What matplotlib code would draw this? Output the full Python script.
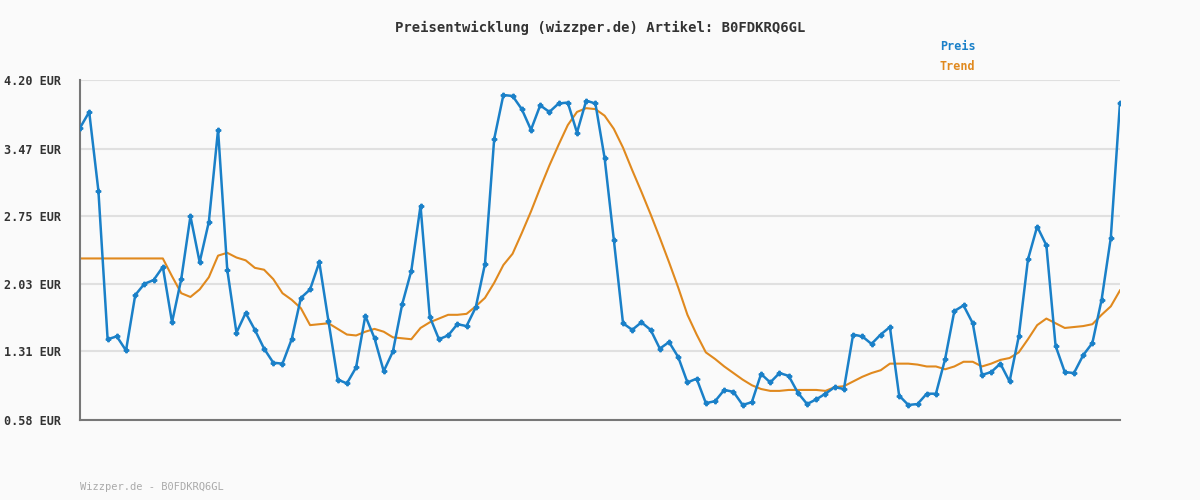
import numpy as np
import matplotlib
matplotlib.use("Agg")
import matplotlib.pyplot as plt

# Preis (EUR), 114 points
preis = [3.69, 3.86, 3.02, 1.44, 1.47, 1.32, 1.91, 2.03, 2.07, 2.21,
         1.62, 2.08, 2.75, 2.26, 2.69, 3.67, 2.18, 1.51, 1.72, 1.54,
         1.34, 1.19, 1.18, 1.44, 1.88, 1.97, 2.26, 1.63, 1.01, 0.97,
         1.14, 1.69, 1.45, 1.10, 1.31, 1.81, 2.17, 2.86, 1.68, 1.44,
         1.48, 1.60, 1.58, 1.78, 2.24, 3.57, 4.04, 4.03, 3.89, 3.67,
         3.93, 3.86, 3.95, 3.96, 3.64, 3.98, 3.95, 3.37, 2.50, 1.61,
         1.54, 1.62, 1.54, 1.34, 1.41, 1.25, 0.98, 1.02, 0.76, 0.78,
         0.90, 0.88, 0.74, 0.77, 1.07, 0.98, 1.08, 1.05, 0.87, 0.75,
         0.80, 0.86, 0.93, 0.91, 1.49, 1.47, 1.39, 1.49, 1.57, 0.84,
         0.74, 0.75, 0.86, 0.86, 1.23, 1.74, 1.80, 1.61, 1.06, 1.09,
         1.18, 0.99, 1.47, 2.29, 2.64, 2.44, 1.37, 1.09, 1.08, 1.27,
         1.40, 1.86, 2.52, 3.96]

trend = [2.30, 2.30, 2.30, 2.30, 2.30, 2.30, 2.30, 2.30, 2.30, 2.30,
         2.11, 1.93, 1.89, 1.97, 2.10, 2.33, 2.36, 2.31, 2.28, 2.20,
         2.18, 2.08, 1.93, 1.86, 1.77, 1.59, 1.60, 1.61, 1.55, 1.49,
         1.48, 1.52, 1.55, 1.52, 1.46, 1.45, 1.44, 1.56, 1.62, 1.66,
         1.70, 1.70, 1.71, 1.79, 1.88, 2.04, 2.23, 2.35, 2.57, 2.80,
         3.05, 3.29, 3.51, 3.72, 3.86, 3.90, 3.89, 3.82, 3.68, 3.48,
         3.24, 3.01, 2.77, 2.52, 2.26, 1.99, 1.70, 1.49, 1.30, 1.23,
         1.15, 1.08, 1.01, 0.95, 0.91, 0.89, 0.89, 0.90, 0.90, 0.90,
         0.90, 0.89, 0.93, 0.94, 0.99, 1.04, 1.08, 1.11, 1.18, 1.18,
         1.18, 1.17, 1.15, 1.15, 1.12, 1.15, 1.20, 1.20, 1.15, 1.18,
         1.22, 1.24, 1.30, 1.44, 1.59, 1.66, 1.61, 1.56, 1.57, 1.58,
         1.60, 1.70, 1.79, 1.96]

yticks = [0.58, 1.31, 2.03, 2.75, 3.47, 4.20]

blue = "#1a80c8"
orange = "#e0891e"
mono = "DejaVu Sans Mono"

fig = plt.figure(figsize=(12, 5), dpi=100, facecolor="#fafafa")
ax = fig.add_axes([80 / 1200, 0.16, 1040 / 1200, 0.68], facecolor="#fafafa")

x = np.arange(len(preis))
ax.plot(x, trend, color=orange, lw=1.5, zorder=2)
ax.plot(x, preis, color=blue, lw=1.8, marker="P", ms=3.2, zorder=3)

ax.set_xlim(0, len(preis) - 1)
ax.set_ylim(0.58, 4.20)
ax.set_yticks(yticks)
ax.set_yticklabels([f"{v:.2f} EUR" for v in yticks], family=mono,
                   fontsize=8.5, fontweight="bold", color="#333333")
ax.set_xticks([])
ax.tick_params(axis="y", length=0, pad=14)
ax.grid(axis="y", color="#e0e0e0", lw=1.5)
ax.set_axisbelow(True)
for s in ["top", "right"]:
    ax.spines[s].set_visible(False)
ax.spines["left"].set_color("#777777")
ax.spines["bottom"].set_color("#777777")
ax.spines["left"].set_linewidth(1.5)
ax.spines["bottom"].set_linewidth(1.5)

fig.text(0.5, 1 - 28 / 500, "Preisentwicklung (wizzper.de) Artikel: B0FDKRQ6GL",
         ha="center", va="center", family=mono, fontsize=10, color="#333333",
         fontweight="bold")
fig.text(940 / 1200, 1 - 47 / 500, "Preis", family=mono, fontsize=8.5,
         color=blue, fontweight="bold", va="center")
fig.text(940 / 1200, 1 - 67 / 500, "Trend", family=mono, fontsize=8.5,
         color=orange, fontweight="bold", va="center")
fig.text(80 / 1200, 1 - 487 / 500, "Wizzper.de - B0FDKRQ6GL", family=mono,
         fontsize=7.5, color="#aaaaaa", va="center")

fig.savefig("out.png", dpi=100, facecolor=fig.get_facecolor())
